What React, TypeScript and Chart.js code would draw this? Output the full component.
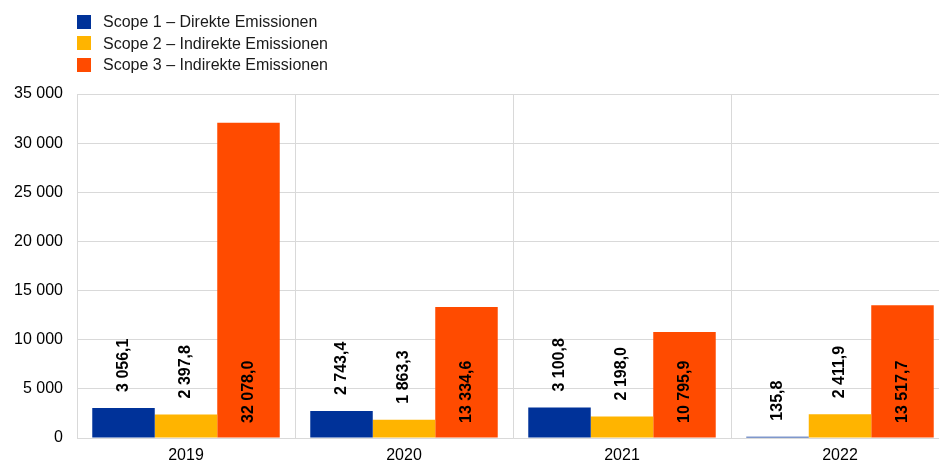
import React, { useEffect, useRef } from 'react';
import { Chart, registerables } from 'chart.js';

Chart.register(...registerables);

// data
const years = ['2019', '2020', '2021', '2022'];
const scope1 = [3056.1, 2743.4, 3100.8, 135.8];
const scope2 = [2397.8, 1863.3, 2198.0, 2411.9];
const scope3 = [32078.0, 13334.6, 10795.9, 13517.7];
const seriesNames = [
  'Scope 1 – Direkte Emissionen',
  'Scope 2 – Indirekte Emissionen',
  'Scope 3 – Indirekte Emissionen',
];
const seriesColors = ['#003299', '#FFB400', '#FF4B00'];
const yMax = 35000;
const yStep = 5000;

const FONT = 'Arial, "Liberation Sans", sans-serif';
const GRID = '#d9d9d9';

const fmt = (v: number, decimals: number) => {
  const [i, d] = v.toFixed(decimals).split('.');
  const int = i.replace(/\B(?=(\d{3})+(?!\d))/g, ' ');
  return d ? `${int},${d}` : int;
};

// rotated value labels: scope 1/2 above the bar, scope 3 at the bar's base
const barLabels = {
  id: 'barLabels',
  afterDatasetsDraw(chart: any) {
    const { ctx } = chart;
    const base = chart.scales.y.getPixelForValue(0);
    chart.data.datasets.forEach((ds: any, di: number) => {
      const meta = chart.getDatasetMeta(di);
      meta.data.forEach((bar: any, i: number) => {
        const v = ds.data[i] as number;
        const anchor = di === 2 ? base - 15 : bar.y - 16;
        ctx.save();
        ctx.translate(bar.x, anchor);
        ctx.rotate(-Math.PI / 2);
        ctx.font = `bold 16px ${FONT}`;
        ctx.fillStyle = '#000';
        ctx.textAlign = 'left';
        ctx.textBaseline = 'middle';
        ctx.fillText(fmt(v, 1), 0, 0);
        ctx.restore();
      });
    });
  },
};

const App = () => {
  const canvasRef = useRef<HTMLCanvasElement | null>(null);
  const chartRef = useRef<Chart | null>(null);

  useEffect(() => {
    if (chartRef.current) chartRef.current.destroy();
    const ctx = canvasRef.current?.getContext('2d');
    if (!ctx) return;

    const series = [scope1, scope2, scope3];
    chartRef.current = new Chart(ctx, {
      type: 'bar',
      data: {
        labels: years,
        datasets: series.map((data, i) => ({
          label: seriesNames[i],
          data,
          backgroundColor: seriesColors[i],
          categoryPercentage: 0.86,
          barPercentage: 1,
        })),
      },
      options: {
        animation: false,
        responsive: false,
        layout: { padding: { top: 94, right: 11, left: 0, bottom: 0 } },
        plugins: {
          legend: { display: false },
          tooltip: { enabled: false },
        },
        scales: {
          x: {
            offset: true,
            grid: { display: true, offset: true, color: GRID, drawTicks: false },
            border: { color: GRID },
            ticks: { color: '#000', font: { family: FONT, size: 16 }, padding: 8 },
            afterFit: (s: any) => { s.height = 26; },
          },
          y: {
            min: 0,
            max: yMax,
            grid: { color: GRID, drawTicks: false },
            border: { color: GRID },
            ticks: {
              stepSize: yStep,
              color: '#000',
              font: { family: FONT, size: 16 },
              padding: 14,
              callback: (v: any) => fmt(Number(v), 0),
            },
            afterFit: (s: any) => { s.width = 77; },
          },
        },
      },
      plugins: [barLabels],
    });

    return () => {
      if (chartRef.current) {
        chartRef.current.destroy();
        chartRef.current = null;
      }
    };
  }, []);

  return (
    <div style={{ position: 'fixed', left: 0, top: 0, width: 939, height: 464, overflow: 'hidden', background: '#fff' }}>
      <canvas ref={canvasRef} width={960} height={464} style={{ width: 960, height: 464, display: 'block' }} />
      <div style={{ position: 'absolute', left: 77, top: 11, fontFamily: FONT, fontSize: 16, color: '#1a1a1a' }}>
        {seriesNames.map((name, i) => (
          <div key={name} style={{ display: 'flex', alignItems: 'center', height: 21.5, lineHeight: '21.5px' }}>
            <span style={{ width: 14, height: 14, background: seriesColors[i], marginRight: 12, display: 'inline-block' }} />
            <span>{name}</span>
          </div>
        ))}
      </div>
    </div>
  );
};

export default App;
